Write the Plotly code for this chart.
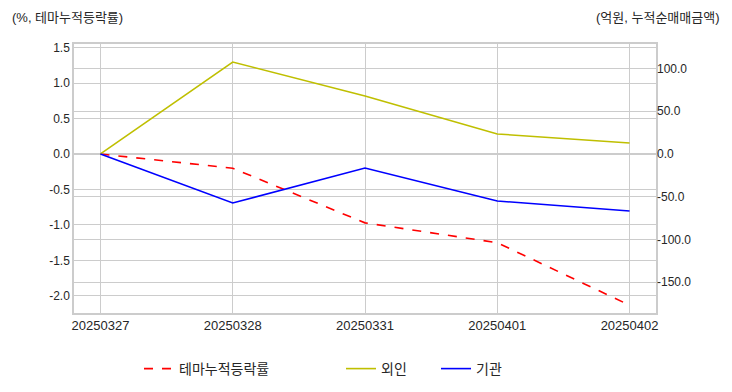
import plotly.graph_objects as go

dates = ["20250327", "20250328", "20250331", "20250401", "20250402"]
theme_cum = [0.0, -0.20, -0.97, -1.25, -2.13]
foreign = [0.0, 107.5, 67.8, 23.4, 12.9]
institution = [0.0, -57.3, -16.4, -55.0, -66.7]

left_ticks = [1.5, 1.0, 0.5, 0.0, -0.5, -1.0, -1.5, -2.0]
right_ticks = [100, 50, 0, -50, -100, -150]

font_family = "Liberation Sans, Noto Sans CJK KR, sans-serif"
grid = "#cccccc"
text_c = "#262626"

fig = go.Figure()
fig.add_trace(go.Scatter(x=dates, y=theme_cum, name="테마누적등락률", mode="lines",
                         line=dict(color="#ff0000", width=1.6, dash="dash"), yaxis="y",
                         legend="legend"))
fig.add_trace(go.Scatter(x=dates, y=foreign, name="외인", mode="lines",
                         line=dict(color="#bfbf00", width=1.6), yaxis="y2", legend="legend2"))
fig.add_trace(go.Scatter(x=dates, y=institution, name="기관", mode="lines",
                         line=dict(color="#0000ff", width=1.6), yaxis="y2", legend="legend3"))

L, R, T, B = 74, 76, 44, 79
W, H = 732, 392
pw, ph = W - L - R, H - T - B

def px_x(x):
    return (x - L) / pw

def px_y(y):
    return (H - B - y) / ph

leg_font = dict(size=14, color=text_c, family="Noto Sans CJK KR, sans-serif")

def leg(xpx):
    return dict(orientation="h", x=px_x(xpx), xanchor="left", y=px_y(369), yanchor="middle",
                font=leg_font, bgcolor="rgba(0,0,0,0)")

fig.update_layout(
    width=W, height=H,
    margin=dict(l=L, r=R, t=T, b=B, autoexpand=False),
    paper_bgcolor="white", plot_bgcolor="white",
    font=dict(family=font_family, size=12, color=text_c),
    showlegend=True,
    legend=leg(139),
    legend2=leg(341),
    legend3=leg(436),
    xaxis=dict(type="category", range=[-0.2, 4.2], showgrid=True, gridcolor=grid,
               gridwidth=1, showline=True, linecolor=grid, linewidth=1.5, mirror=True,
               ticks="", tickfont=dict(size=13, color=text_c), zeroline=False, automargin=False),
    yaxis=dict(range=[-2.24, 1.55], tickvals=left_ticks,
               ticktext=[f"{v:.1f}" for v in left_ticks], showgrid=True,
               gridcolor=grid, gridwidth=1, showline=True, linecolor=grid, linewidth=1.5,
               mirror=True, ticks="", zeroline=False, tickfont=dict(size=12, color=text_c),
               automargin=False),
    yaxis2=dict(range=[-186, 128.6], tickvals=right_ticks,
                ticktext=[f"{v:.1f}" for v in right_ticks], overlaying="y", side="right",
                showgrid=True, gridcolor=grid, gridwidth=1, zeroline=False, ticks="",
                tickfont=dict(size=12, color=text_c), automargin=False),
    annotations=[
        dict(text="(%, 테마누적등락률)", xref="paper", yref="paper", x=px_x(10), y=px_y(17),
             xanchor="left", yanchor="middle", showarrow=False,
             font=dict(size=13, color=text_c)),
        dict(text="(억원, 누적순매매금액)", xref="paper", yref="paper", x=px_x(722), y=px_y(17),
             xanchor="right", yanchor="middle", showarrow=False,
             font=dict(size=13, color=text_c)),
    ],
)

fig.write_html("out.html", config={"displayModeBar": False},
               post_script="document.body.style.margin='0';document.body.style.padding='0';")
